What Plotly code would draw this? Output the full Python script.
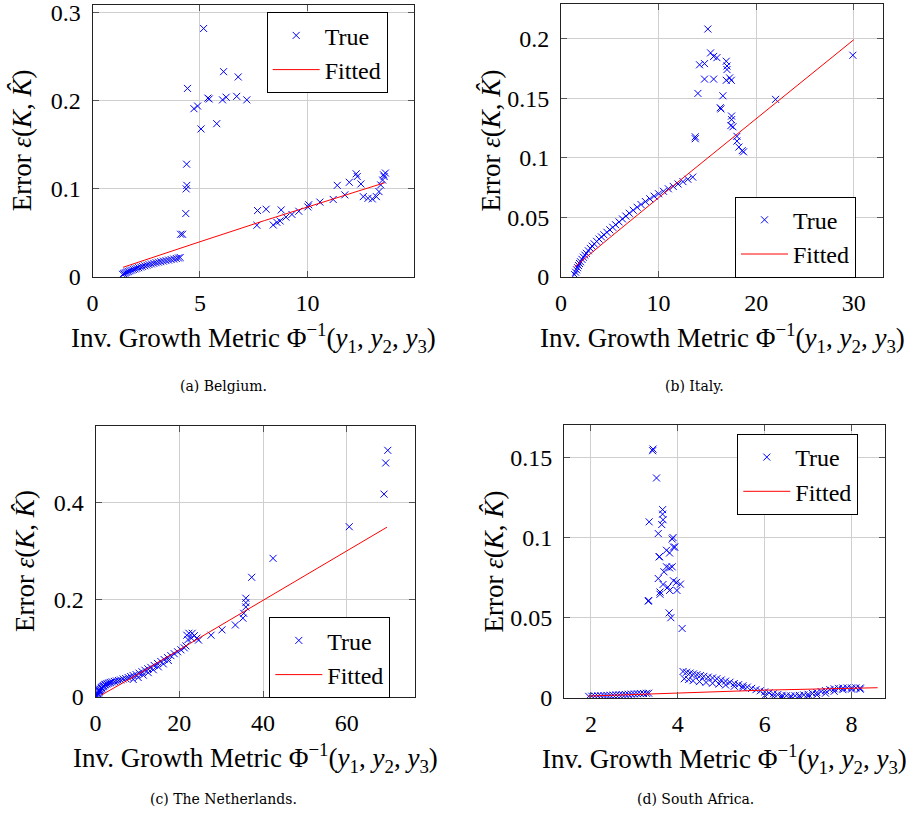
import plotly.graph_objects as go

# ---------------- Belgium ----------------
be_x = [1.40, 1.45, 1.50, 1.56, 1.62, 1.68, 1.75, 1.82, 1.90, 1.98, 2.06, 2.15, 2.24, 2.33, 2.43,
        2.53, 2.63, 2.74, 2.85, 2.96, 3.07, 3.18, 3.30, 3.42, 3.54, 3.66, 3.78, 3.90, 4.00, 4.08,
        4.10, 4.19, 4.34, 4.36, 4.39, 4.38, 4.42, 4.72, 4.89, 5.05, 5.17, 5.37, 5.43, 5.78, 6.05,
        6.10, 6.22, 6.71, 6.78, 7.18,
        7.65, 7.68, 8.08, 8.41, 8.58, 8.73, 8.78, 9.00, 9.28, 9.60, 10.02, 10.06, 10.58, 11.20,
        11.39, 11.74, 11.95, 12.27, 12.32, 12.49, 12.60, 12.82, 13.02, 13.21, 13.33, 13.41, 13.50,
        13.54, 13.57, 13.63]
be_y = [0.0030, 0.0037, 0.0044, 0.0051, 0.0058, 0.0064, 0.0071, 0.0078, 0.0085, 0.0092, 0.0099,
        0.0106, 0.0113, 0.0120, 0.0127, 0.0134, 0.0141, 0.0148, 0.0155, 0.0162, 0.0168, 0.0174,
        0.0180, 0.0186, 0.0192, 0.0198, 0.0204, 0.0210, 0.0216, 0.0222,
        0.0485, 0.0485, 0.072, 0.100, 0.104, 0.128, 0.214, 0.191, 0.194, 0.168, 0.282, 0.203, 0.202,
        0.174, 0.201, 0.233, 0.204, 0.205, 0.227, 0.201,
        0.0587, 0.0754, 0.0769, 0.059, 0.062, 0.0636, 0.0761, 0.068, 0.071, 0.0746, 0.0795, 0.082,
        0.085, 0.088, 0.104, 0.0932, 0.1075, 0.1171, 0.114, 0.1056, 0.0912, 0.0893, 0.0886, 0.0912,
        0.0969, 0.1045, 0.110, 0.116, 0.114, 0.118]
be_fit_x = [1.42, 3.0, 5.0, 8.0, 11.0, 13.6]
be_fit_y = [0.011, 0.0235, 0.040, 0.064, 0.087, 0.107]

# ---------------- Italy ----------------
it_x = [1.4, 1.5, 1.6, 1.7, 1.8, 1.9, 2.0, 2.15, 2.3, 2.45, 2.6, 2.8, 3.0, 3.2, 3.4, 3.65, 3.9,
        4.15, 4.4, 4.7, 5.0, 5.3, 5.6, 5.95, 6.3, 6.65, 7.0, 7.4, 7.8, 8.2, 8.65, 9.1, 9.55, 10.0,
        10.5, 11.0, 11.5, 12.0, 12.5, 13.0, 13.5,
        13.76, 13.76, 14.03, 14.20, 14.71, 14.71, 15.05, 15.33, 15.64, 15.64, 15.98, 16.32, 16.39,
        16.59, 16.94, 16.94, 17.01, 17.01, 17.28, 17.45, 17.48, 17.48, 17.41, 17.62, 18.03, 18.03,
        18.23, 18.57, 18.71, 21.99, 29.91]
it_y = [0.002, 0.004, 0.006, 0.0078, 0.0096, 0.0113, 0.0128, 0.0148, 0.0166, 0.0183, 0.0199,
        0.022, 0.024, 0.0259, 0.0278, 0.0299, 0.0318, 0.0336, 0.0354, 0.0375, 0.0396, 0.0417,
        0.0438, 0.0462, 0.0487, 0.0511, 0.0535, 0.056, 0.0585, 0.0608, 0.0633, 0.0656, 0.0678,
        0.0698, 0.0719, 0.074, 0.076, 0.078, 0.080, 0.082, 0.0838,
        0.1176, 0.116, 0.154, 0.178, 0.179, 0.166, 0.208, 0.188, 0.185, 0.166, 0.184, 0.142, 0.141,
        0.152, 0.181, 0.165, 0.177, 0.174, 0.167, 0.165, 0.135, 0.132, 0.127, 0.126, 0.118, 0.114,
        0.109, 0.106, 0.105, 0.149, 0.186]
it_fit_x = [1.4, 3.0, 5.0, 10.0, 20.0, 30.0]
it_fit_y = [0.0085, 0.0195, 0.033, 0.0665, 0.133, 0.199]

# ---------------- The Netherlands ----------------
nl_x = [0.4, 0.5, 0.6, 0.7, 0.8, 0.9, 1.0, 1.1, 1.2, 1.35, 1.5, 1.65, 1.8, 2.0, 2.2, 2.4, 2.7,
        3.0, 3.3, 3.6, 4.0, 4.5, 5.0, 5.5, 6.0, 6.6, 7.2, 7.8, 8.4, 9.0, 9.7, 10.4, 11.1, 11.8,
        12.5, 13.2, 14.0, 14.8, 15.6, 16.4, 17.2, 18.0, 18.8, 19.6, 20.4, 21.2,
        9.0, 10.2, 11.4, 12.6, 13.8, 15.0, 16.2, 17.4,
        21.6, 21.8, 22.1, 22.3, 22.9, 23.1, 23.6, 24.2, 24.6,
        27.6, 30.2, 33.4, 35.2, 35.4, 35.9, 35.9, 35.9, 37.3, 42.4, 60.6, 68.9, 69.3, 69.8]
nl_y = [0.002, 0.004, 0.006, 0.008, 0.010, 0.012, 0.013, 0.015, 0.016, 0.018, 0.019, 0.021, 0.022,
        0.023, 0.025, 0.026, 0.027, 0.028, 0.029, 0.030, 0.031, 0.032, 0.033, 0.034, 0.035, 0.037,
        0.038, 0.040, 0.042, 0.044, 0.046, 0.049, 0.052, 0.055, 0.058, 0.061, 0.065, 0.069, 0.073,
        0.077, 0.081, 0.085, 0.089, 0.093, 0.097, 0.101,
        0.036, 0.040, 0.045, 0.050, 0.056, 0.062, 0.068, 0.075,
        0.105, 0.127, 0.118, 0.131, 0.121, 0.131, 0.126, 0.121, 0.117,
        0.127, 0.138, 0.148, 0.162, 0.172, 0.185, 0.194, 0.203, 0.246, 0.285, 0.350, 0.417, 0.481,
        0.507]
nl_fit_x = [1.4, 5.0, 10.0, 20.0, 40.0, 69.6]
nl_fit_y = [0.004, 0.021, 0.046, 0.097, 0.199, 0.349]

# ---------------- South Africa ----------------
za_x = [1.95, 2.02, 2.09, 2.16, 2.23, 2.30, 2.37, 2.44, 2.51, 2.58, 2.65, 2.72, 2.79, 2.86, 2.93,
        3.00, 3.07, 3.14, 3.21, 3.28, 3.33,
        3.32, 3.33, 3.34, 3.42, 3.43, 3.51, 3.55, 3.55, 3.57, 3.58, 3.59, 3.59, 3.63, 3.65, 3.65,
        3.66, 3.66, 3.68, 3.74, 3.74, 3.77, 3.80, 3.81, 3.81, 3.81, 3.84, 3.87, 3.87, 3.89, 3.90,
        3.90, 3.93, 3.97, 3.98, 4.06, 4.10,
        4.12, 4.20, 4.28, 4.36, 4.44, 4.52, 4.60, 4.70, 4.80, 4.90, 5.00, 5.10, 5.20, 5.30, 5.40,
        5.50, 5.60, 5.70, 5.80, 5.90, 6.00, 6.10, 6.20, 6.30, 6.40, 6.50, 6.60, 6.70, 6.80, 6.90,
        7.00, 7.10, 7.20, 7.30, 7.40, 7.50, 7.60, 7.70, 7.80, 7.90, 8.00, 8.10, 8.20,
        4.15, 4.25, 4.35, 4.50, 4.65, 4.80, 4.95, 5.10, 5.30, 5.50,
        6.00, 6.20, 6.40, 6.60, 6.80, 7.00, 7.20, 7.40, 7.60, 7.80, 8.00, 8.20]
za_y = [0.0010, 0.0011, 0.0012, 0.0013, 0.0014, 0.0015, 0.0016, 0.0017, 0.0018, 0.0019, 0.0020,
        0.0021, 0.0022, 0.0023, 0.0024, 0.0025, 0.0026, 0.0027, 0.0028, 0.0029, 0.0030,
        0.0603, 0.0607, 0.1097, 0.154, 0.155, 0.137, 0.1024, 0.0744, 0.0879, 0.088, 0.066, 0.0646,
        0.108, 0.1173, 0.1145, 0.111, 0.0707, 0.0786, 0.092, 0.0817, 0.069, 0.053, 0.0903, 0.081,
        0.067, 0.050, 0.099, 0.0817, 0.0999, 0.094, 0.073, 0.094, 0.072, 0.067, 0.0709, 0.0433,
        0.0165, 0.0160, 0.0155, 0.0150, 0.0145, 0.0140, 0.0135, 0.0130, 0.0125, 0.0120, 0.0112,
        0.0105, 0.0098, 0.0090, 0.0083, 0.0076, 0.0068, 0.0060, 0.0052, 0.0045, 0.0038, 0.0032,
        0.0026, 0.0021, 0.0017, 0.0014, 0.0013, 0.0014, 0.0016, 0.0019, 0.0023, 0.0028, 0.0034,
        0.0040, 0.0046, 0.0052, 0.0057, 0.0060, 0.0062, 0.0063, 0.0063, 0.0063, 0.0062,
        0.0120, 0.0115, 0.0108, 0.0102, 0.0097, 0.0092, 0.0087, 0.0081, 0.0073, 0.0064,
        0.0015, 0.0010, 0.0006, 0.0004, 0.0006, 0.0011, 0.0020, 0.0030, 0.0042, 0.0052, 0.0055,
        0.0055]
za_fit_x = [1.94, 4.0, 6.0, 8.6]
za_fit_y = [0.0012, 0.0031, 0.0049, 0.0064]

# tick labels
ticks = {
    "a": dict(xv=[0, 5, 10], yv=[0, 0.1, 0.2, 0.3], yt=["0", "0.1", "0.2", "0.3"]),
    "b": dict(xv=[0, 10, 20, 30], yv=[0, 0.05, 0.1, 0.15, 0.2], yt=["0", "0.05", "0.1", "0.15", "0.2"]),
    "c": dict(xv=[0, 20, 40, 60], yv=[0, 0.2, 0.4], yt=["0", "0.2", "0.4"]),
    "d": dict(xv=[2, 4, 6, 8], yv=[0, 0.05, 0.1, 0.15], yt=["0", "0.05", "0.1", "0.15"]),
}
captions = ["(a) Belgium.", "(b) Italy.", "(c) The Netherlands.", "(d) South Africa."]

W, H = 922, 821
SERIF = "Liberation Serif"
FS_TICK = 24
FS_TITLE = 27
FS_LEG = 24

def px(v):
    return v / W

def py(v):
    return 1 - v / H

panels = [
    # key, data, axis box (left, right, top, bottom) in px, xrange, yrange, legend (left, top)
    ("a", (be_x, be_y, be_fit_x, be_fit_y), (92.5, 414, 4.7, 277), [0, 14.96], [0, 0.309], (266.7, 12.3)),
    ("b", (it_x, it_y, it_fit_x, it_fit_y), (561, 883, 4, 277), [0, 33.0], [0, 0.229], (735, 196.7)),
    ("c", (nl_x, nl_y, nl_fit_x, nl_fit_y), (95.5, 415, 426, 697), [0, 76.3], [0, 0.557], (269.3, 617.3)),
    ("d", (za_x, za_y, za_fit_x, za_fit_y), (564, 885, 425, 698), [1.38, 8.77], [0, 0.17], (737.3, 434)),
]

fig = go.Figure()
annotations = []
layout = {}

for i, (key, (tx, ty, fx, fy), (l, r, t, b), xr, yr, (lx, ly)) in enumerate(panels):
    n = i + 1
    xa = "x" if n == 1 else f"x{n}"
    ya = "y" if n == 1 else f"y{n}"
    lg = "legend" if n == 1 else f"legend{n}"
    fig.add_trace(go.Scatter(
        x=tx, y=ty, mode="markers", name="True", xaxis=xa, yaxis=ya, legend=lg,
        marker=dict(symbol="x-thin", size=7, color="#0000ff", line=dict(width=1, color="#0000ff")),
    ))
    fig.add_trace(go.Scatter(
        x=fx, y=fy, mode="lines", name="Fitted", xaxis=xa, yaxis=ya, legend=lg,
        line=dict(color="#ff0000", width=1),
    ))
    tk = ticks[key]
    common = dict(
        showline=True, linecolor="#222222", linewidth=1, mirror="ticks",
        ticks="inside", ticklen=6, tickcolor="#555555", tickwidth=1,
        showgrid=True, gridcolor="#cfcfcf", gridwidth=1, zeroline=False,
        automargin=False,
        tickfont=dict(family=SERIF, size=FS_TICK, color="black"),
    )
    layout[f"xaxis{'' if n == 1 else n}"] = dict(
        domain=[px(l), px(r)], range=xr, anchor=ya, tickvals=tk["xv"],
        ticktext=[str(v) for v in tk["xv"]], ticklabelstandoff=4, **common)
    layout[f"yaxis{'' if n == 1 else n}"] = dict(
        domain=[py(b), py(t)], range=yr, anchor=xa, tickvals=tk["yv"],
        ticktext=tk["yt"], ticklabelstandoff=6, **common)
    layout[lg] = dict(
        x=px(lx), y=py(ly), xanchor="left", yanchor="top", xref="paper", yref="paper",
        bgcolor="white", bordercolor="black", borderwidth=1,
        font=dict(family=SERIF, size=FS_LEG, color="black"), itemwidth=47,
        tracegroupgap=0,
    )
    # x axis title
    annotations.append(dict(
        x=px((l + r) / 2), y=py(b + 61), xref="paper", yref="paper", showarrow=False,
        xanchor="center", yanchor="middle",
        text="Inv. Growth Metric Φ<sup>−1</sup>(<i>y</i><sub>1</sub>, <i>y</i><sub>2</sub>, <i>y</i><sub>3</sub>)",
        font=dict(family=SERIF, size=FS_TITLE, color="black"),
    ))
    # y axis title
    annotations.append(dict(
        x=px(l - 71), y=py((t + b) / 2), xref="paper", yref="paper", showarrow=False,
        xanchor="center", yanchor="middle", textangle=-90,
        text="Error <i>ε</i>(<i>K</i>, <i>K̂</i>)",
        font=dict(family=SERIF, size=FS_TITLE, color="black"),
    ))

cap_pos = [(223, 386), (694, 386), (223, 799), (695, 799)]
for cap, (cx, cy) in zip(captions, cap_pos):
    annotations.append(dict(
        x=px(cx), y=py(cy), xref="paper", yref="paper", showarrow=False,
        xanchor="center", yanchor="middle", text=cap,
        font=dict(family="DejaVu Serif", size=14, color="black"),
    ))

fig.update_layout(
    width=W, height=H, margin=dict(l=0, r=0, t=0, b=0, autoexpand=False),
    paper_bgcolor="white", plot_bgcolor="white",
    annotations=annotations, **layout,
)

# remove the browser's default 8px page margin so the figure sits at (0, 0)
fig.write_html(
    "out.html",
    config={"displayModeBar": False},
    post_script="document.body.style.margin='0px';document.body.style.padding='0px';",
)
